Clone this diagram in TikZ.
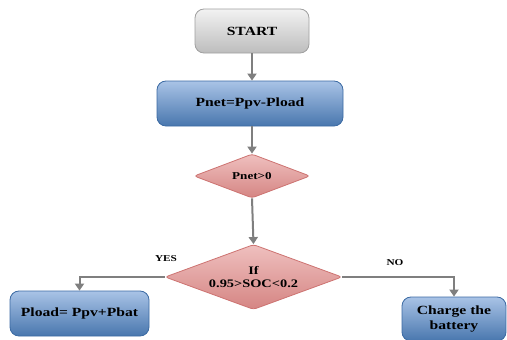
\documentclass[tikz,border=0pt]{standalone}
\usepackage{fontspec}
\setmainfont{Liberation Serif}[FakeStretch=1.25]
\usetikzlibrary{shapes.geometric,arrows.meta}
\definecolor{arr}{HTML}{7F7F7F}
\definecolor{bluemain}{HTML}{4F81BD}
\definecolor{bluetop}{HTML}{A9C3E6}
\definecolor{blueline}{HTML}{3B6AA3}
\definecolor{redmain}{HTML}{D58583}
\definecolor{redtop}{HTML}{EFC0BF}
\definecolor{redline}{HTML}{C0504D}
\definecolor{graymain}{HTML}{BDBDBD}
\definecolor{graytop}{HTML}{F2F2F2}
\definecolor{grayline}{HTML}{A0A0A0}
\tikzset{
  box/.style={rounded corners=9pt, line width=0.8pt, align=center, inner sep=0pt,
    font=\bfseries\fontsize{12.5}{14}\selectfont},
  startbox/.style={box, draw=grayline, top color=graytop, bottom color=graymain},
  bluebox/.style={box, draw=blueline, top color=bluetop, middle color=bluemain, bottom color=bluemain!92!black},
  decision/.style={diamond, rounded corners=3pt, line width=0.8pt, align=center, inner sep=0pt,
    draw=redline!80, top color=redtop, bottom color=redmain,
    font=\bfseries\fontsize{11.5}{12.5}\selectfont},
  flow/.style={draw=arr, line width=2pt, -{Triangle[width=9pt,length=7pt]}},
  lbl/.style={font=\bfseries\fontsize{9}{10}\selectfont, inner sep=0pt}
}
\begin{document}
\begin{tikzpicture}[x=1pt,y=-1pt]
\useasboundingbox (0,0) rectangle (507,340);
\node[startbox, minimum width=114pt, minimum height=44pt] (start) at (252,31) {START};
\node[bluebox, minimum width=186pt, minimum height=45pt] (pnet) at (250,103.5) {Pnet=Ppv-Pload};
\node[decision, shape aspect=2.6, minimum width=116pt, minimum height=44pt, font=\bfseries\fontsize{10.5}{12}\selectfont] (d1) at (252,176) {Pnet>0};
\node[decision, shape aspect=2.7, minimum width=177pt, minimum height=65pt] (d2) at (253.5,277) {If\\0.95>SOC<0.2};
\node[bluebox, minimum width=139pt, minimum height=45pt] (pload) at (79.5,313.5) {Pload= Ppv+Pbat};
\node[bluebox, minimum width=104pt, minimum height=44pt, font=\bfseries\fontsize{12.5}{15}\selectfont] (charge) at (454,319) {Charge the\\battery};
\draw[flow] (start.south) -- (start.south |- pnet.north);
\draw[flow] (pnet.south -| d1.north) -- (d1.north);
\draw[flow] (d1.south) -- (d2.north);
\draw[flow] (d2.west) -| (pload.north);
\draw[flow] (d2.east) -| (charge.north);
\node[lbl] (yes) at (166,259) {YES};
\node[lbl] (no) at (395,263) {NO};
\end{tikzpicture}
\end{document}
